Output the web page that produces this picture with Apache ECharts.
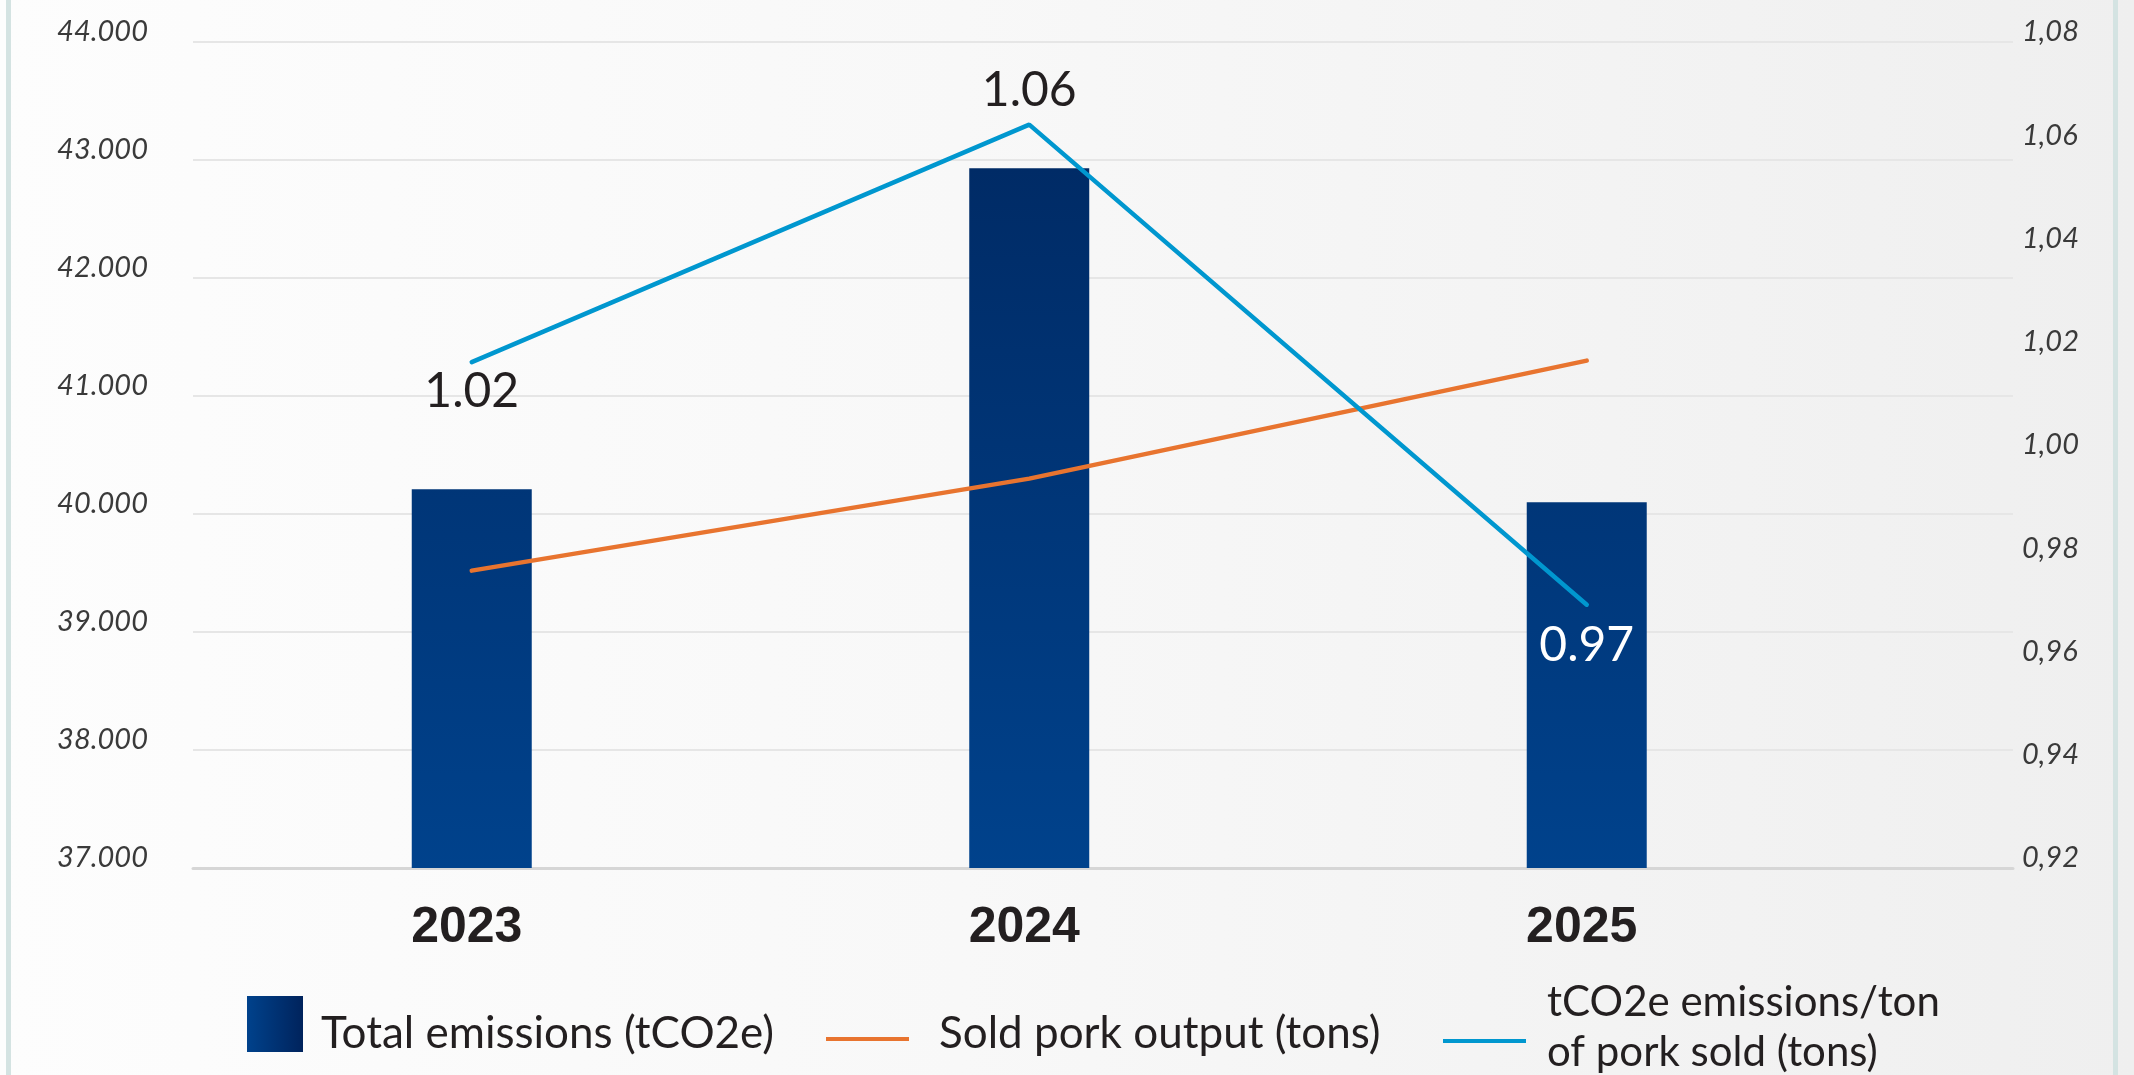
<!DOCTYPE html>
<html>
<head>
<meta charset="utf-8">
<script src="https://cdn.jsdelivr.net/npm/echarts@6/dist/echarts.min.js"></script>
<style>
html, body { margin: 0; padding: 0; width: 2134px; height: 1075px; overflow: hidden; }
body { position: relative; background: linear-gradient(to right, #fdfdfd 0%, #f8f8f8 45%, #efefef 100%); }
.frame { position: absolute; top: 0; bottom: 0; width: 5px; background: #d4e3e2; }
#main { position: absolute; left: 0; top: 0; width: 2134px; height: 1075px; }
</style>
</head>
<body>
<div class="frame" style="left:6px"></div>
<div class="frame" style="left:2113px"></div>
<div id="main"></div>
<script>
// values
const years = ['2023', '2024', '2025'];
const totalEmissions = [40210, 42930, 40100];
const porkSold = [39520, 40300, 41300];
const intensity = [1.018, 1.064, 0.971];

const names = ['Total emissions (tCO2e)', 'Sold pork output (tons)', 'tCO2e emissions/ton of pork sold (tons)'];

// where each intensity label sits relative to its point
const labelPos = ['bottom', 'top', 'bottom'];
const labelColor = ['#231f20', '#231f20', '#ffffff'];
const labelGap = [5, 10, 17];

const orange = '#e8742f';
const blue = '#0097cf';

var chart = echarts.init(document.getElementById('main'), null, { renderer: 'canvas' });

var barFill = new echarts.graphic.LinearGradient(0, 168, 0, 868, [
    { offset: 0, color: '#002b66' },
    { offset: 1, color: '#00428c' }
], true);

var legendSquare = new echarts.graphic.LinearGradient(0, 0, 1, 0, [
    { offset: 0, color: '#00428c' },
    { offset: 1, color: '#00235c' }
]);

function thousands(v) {
    return (v / 1000).toFixed(3);
}

var legendFont = { fontFamily: 'Lato', fontSize: 44, fill: '#231f20', verticalAlign: 'middle' };

// legend is drawn by hand so each key sits where the reference has it
var legendItems = [
    { type: 'rect', shape: { x: 247, y: 996, width: 56, height: 56 }, style: { fill: legendSquare } },
    { type: 'text', x: 321, y: 1034, style: Object.assign({ text: names[0] }, legendFont) },
    { type: 'line', shape: { x1: 826, y1: 1039, x2: 909, y2: 1039 }, style: { stroke: orange, lineWidth: 4 } },
    { type: 'text', x: 939, y: 1034, style: Object.assign({ text: names[1] }, legendFont) },
    { type: 'line', shape: { x1: 1443, y1: 1041, x2: 1526, y2: 1041 }, style: { stroke: blue, lineWidth: 4 } },
    { type: 'text', x: 1547, y: 1027, style: Object.assign({}, legendFont, { text: 'tCO2e emissions/ton\nof pork sold (tons)', lineHeight: 50, fontSize: 42 }) }
];

var yLabel = {
    fontFamily: 'Lato', fontStyle: 'italic', fontSize: 29,
    color: '#3a3a3a', verticalAlign: 'bottom', lineHeight: 20
};

chart.setOption({
    animation: false,
    grid: { left: 193, right: 121, top: 42, bottom: 207 },
    graphic: legendItems,
    xAxis: {
        type: 'value',
        min: -0.5,
        max: 2.7646,
        splitLine: { show: false },
        axisTick: { show: false },
        axisLine: { show: true, lineStyle: { color: '#d6d6d6', width: 3 } },
        axisLabel: {
            customValues: [0, 1, 2],
            formatter: function (v) { return years[Math.round(v)]; },
            fontFamily: 'Liberation Sans',
            fontWeight: 'bold',
            fontSize: 50,
            color: '#231f20',
            margin: 35,
            padding: [0, 10, 0, 0]
        }
    },
    yAxis: [{
        type: 'value',
        min: 37000, max: 44000, interval: 1000,
        axisLine: { show: false },
        axisTick: { show: false },
        splitLine: { lineStyle: { color: '#e6e6e6', width: 2 } },
        axisLabel: Object.assign({ formatter: thousands, margin: 45 }, yLabel)
    }, {
        type: 'value',
        position: 'right',
        min: 0.92, max: 1.08, interval: 0.02,
        axisLine: { show: false },
        axisTick: { show: false },
        splitLine: { show: false },
        axisLabel: Object.assign({
            formatter: function (v) { return v.toFixed(2).replace('.', ','); },
            margin: 9
        }, yLabel)
    }],
    series: [{
        name: names[0],
        type: 'bar',
        barWidth: 120,
        itemStyle: { color: barFill },
        data: totalEmissions.map(function (v, i) { return [i, v]; })
    }, {
        name: names[1],
        type: 'line',
        yAxisIndex: 0,
        symbol: 'none',
        itemStyle: { color: orange },
        lineStyle: { color: orange, width: 4.5, cap: 'round' },
        data: porkSold.map(function (v, i) { return [i, v]; })
    }, {
        name: names[2],
        type: 'line',
        yAxisIndex: 1,
        symbol: 'circle',
        symbolSize: 0,
        showSymbol: true,
        itemStyle: { color: blue },
        lineStyle: { color: blue, width: 4.5, cap: 'round' },
        label: {
            show: true,
            fontFamily: 'Lato', fontSize: 48,
            formatter: function (p) { return p.value[1].toFixed(2); }
        },
        data: intensity.map(function (v, i) {
            return {
                value: [i, v],
                label: { position: labelPos[i], color: labelColor[i], distance: labelGap[i] }
            };
        })
    }]
});
</script>
</body>
</html>
